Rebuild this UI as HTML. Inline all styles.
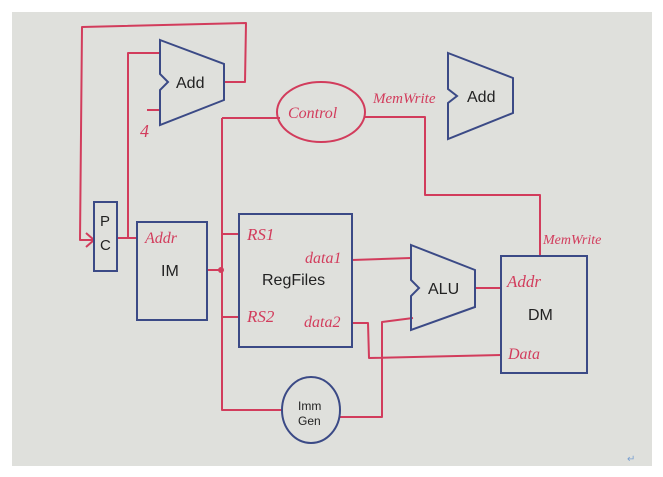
<!DOCTYPE html>
<html><head><meta charset="utf-8"><style>
html,body{margin:0;padding:0;background:#fff;}
svg{display:block;}
.r{fill:none;stroke:#d23c5c;stroke-width:2;stroke-linejoin:round}
.b{fill:none;stroke:#3b4a86;stroke-width:2}
.t{font-family:"Liberation Sans",sans-serif;fill:#222}
.h{font-family:"Liberation Serif",serif;font-style:italic;fill:#d23c5c}
</style></head><body>
<svg width="663" height="477" viewBox="0 0 663 477" xmlns="http://www.w3.org/2000/svg">
<rect x="0" y="0" width="663" height="477" fill="#fff"/>
<rect x="12" y="12" width="640" height="454" fill="#dfe0dc"/>
<!-- red wires -->
<path class="r" d="M224,82 L245,82 L246,23 L82,27 L80,240 L94,240"/>
<path class="r" d="M86,233 L94,240 L86,247"/>
<path class="r" d="M117,238 L137,238 M128,238 L128,53 L160,53"/>
<path class="r" d="M147,110 L160,110"/>
<path class="r" d="M207,270 L222,270 M222,118 L280,118 M222,118 L222,410 L283,410 M222,234 L239,234 M222,317 L239,317"/>
<circle cx="221" cy="270" r="3" fill="#d23c5c"/>
<path class="r" d="M365,117 L425,117 L425,195 L540,195 L540,256"/>
<path class="r" d="M352,260 L411,258"/>
<path class="r" d="M352,323 L368,323 L369,358 L501,355"/>
<path class="r" d="M339,417 L382,417 L382,322 L413,318"/>
<path class="r" d="M475,288 L501,288"/>
<!-- blue shapes -->
<rect class="b" x="94" y="202" width="23" height="69"/>
<rect class="b" x="137" y="222" width="70" height="98"/>
<rect class="b" x="239" y="214" width="113" height="133"/>
<rect class="b" x="501" y="256" width="86" height="117"/>
<path class="b" d="M160,40 L224,64 L224,100 L160,125 L160,90 L168,82 L160,74 Z"/>
<path class="b" d="M448,53 L513,78 L513,113 L448,139 L448,103 L457,96 L448,89 Z"/>
<path class="b" d="M411,245 L475,270 L475,307 L411,330 L411,296 L419,288 L411,280 Z"/>
<ellipse class="b" cx="311" cy="410" rx="29" ry="33"/>
<ellipse class="r" cx="321" cy="112" rx="44" ry="30"/>
<!-- text -->
<text class="t" x="100" y="226" font-size="15">P</text>
<text class="t" x="100" y="250" font-size="15">C</text>
<text class="t" x="161" y="276" font-size="16">IM</text>
<text class="t" x="262" y="285" font-size="16">RegFiles</text>
<text class="t" x="176" y="88" font-size="16">Add</text>
<text class="t" x="467" y="102" font-size="16">Add</text>
<text class="t" x="428" y="294" font-size="16">ALU</text>
<text class="t" x="528" y="320" font-size="16">DM</text>
<text class="t" x="298" y="410" font-size="12">Imm</text>
<text class="t" x="298" y="425" font-size="12">Gen</text>
<text class="h" x="288" y="118" font-size="16">Control</text>
<text class="h" x="373" y="103" font-size="15">MemWrite</text>
<text class="h" x="543" y="244" font-size="14">MemWrite</text>
<text class="h" x="140" y="137" font-size="18">4</text>
<text class="h" x="145" y="243" font-size="16">Addr</text>
<text class="h" x="247" y="240" font-size="17">RS1</text>
<text class="h" x="247" y="322" font-size="17">RS2</text>
<text class="h" x="305" y="263" font-size="16">data1</text>
<text class="h" x="304" y="327" font-size="16">data2</text>
<text class="h" x="507" y="287" font-size="17">Addr</text>
<text class="h" x="508" y="359" font-size="16">Data</text>
<text x="627" y="462" font-size="10" fill="#7aa0d0" font-family="Liberation Sans,sans-serif">↵</text>
</svg>
</body></html>
